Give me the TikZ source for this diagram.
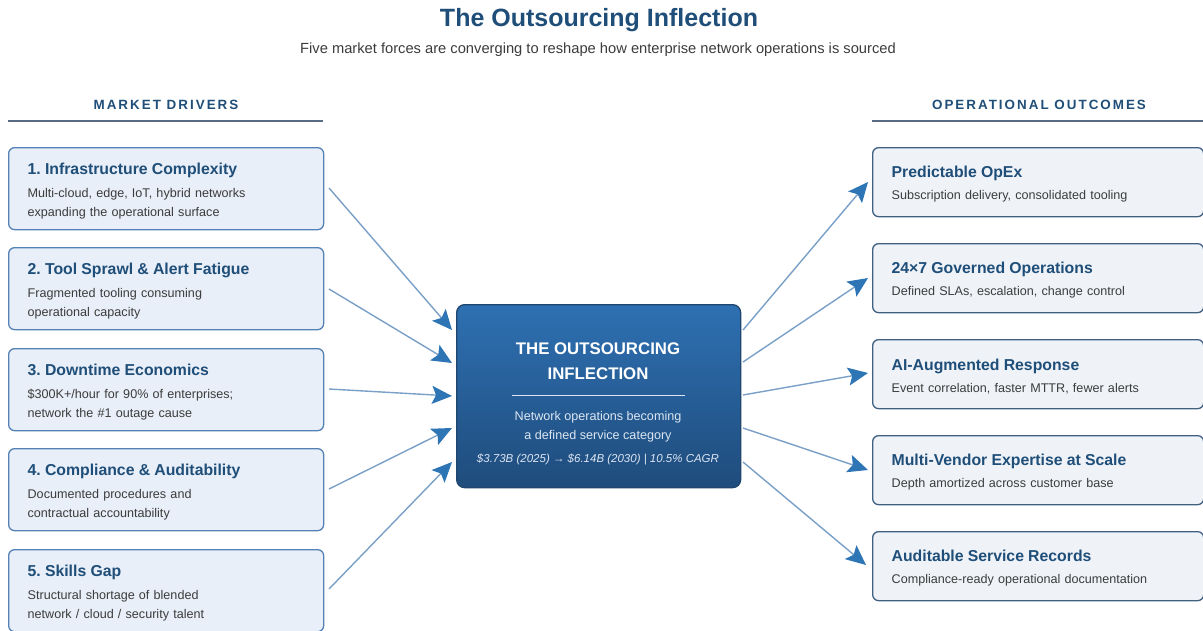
\documentclass[tikz,border=0pt]{standalone}
\usepackage{fontspec}
\setmainfont{Liberation Sans}
\usetikzlibrary{arrows.meta}
\frenchspacing
\definecolor{headblue}{RGB}{31,78,121}
\definecolor{textgray}{RGB}{60,60,60}
\definecolor{rulegray}{RGB}{88,108,132}
\definecolor{drvfill}{RGB}{232,239,248}
\definecolor{drvline}{RGB}{84,130,182}
\definecolor{outfill}{RGB}{239,243,248}
\definecolor{outline}{RGB}{64,96,130}
\definecolor{hubtop}{RGB}{46,112,178}
\definecolor{hubbottom}{RGB}{31,76,124}
\definecolor{hubline}{RGB}{30,70,110}
\definecolor{hubtext}{RGB}{220,230,242}
\definecolor{linkline}{RGB}{122,160,200}
\definecolor{linktip}{RGB}{46,117,182}

\tikzset{
  descfont/.style={font=\fontsize{12.6}{19}\selectfont,text=textgray},
  drvbox/.style={descfont,draw=drvline,fill=drvfill,line width=1.3pt,rounded corners=6pt,
    anchor=north west,minimum height=82pt,text width=277pt,inner xsep=19pt,align=left},
  outbox/.style={descfont,draw=outline,fill=outfill,line width=1.3pt,rounded corners=6pt,
    anchor=north west,minimum height=69pt,text width=293pt,inner xsep=19pt,align=left},
  colhead/.style={font=\fontsize{13.4}{15}\selectfont\bfseries\addfontfeatures{LetterSpace=15},text=headblue},
  link/.style={draw=linkline,line width=1.4pt,
    -{Stealth[length=20pt,width=18pt,inset=4pt,color=linktip]}},
}
\newcommand{\boxtitle}[1]{{\fontsize{15.8}{18}\selectfont\bfseries\color{headblue}\rule{0pt}{16pt}#1}}

\begin{document}
\begin{tikzpicture}[x=1pt,y=-1pt]
\clip (0,0) rectangle (1203,630);
\fill[white] (0,0) rectangle (1203,630);

% heading
\node[font=\fontsize{25}{28}\selectfont\bfseries,text=headblue] (title) at (599,20) {The Outsourcing Inflection};
\node[font=\fontsize{14.7}{17}\selectfont,text=textgray] (subtitle) at (598,50) {Five market forces are converging to reshape how enterprise network operations is sourced};

% column headings
\node[colhead] (drvhead) at (166,105) {MARKET DRIVERS};
\draw[rulegray,line width=2pt] (8,121) -- (323,121);
\node[colhead] (outhead) at (1039,105) {OPERATIONAL OUTCOMES};
\draw[rulegray,line width=2pt] (872,121) -- (1203,121);

% drivers
\node[drvbox] (drv1) at (8,147) {\boxtitle{1. Infrastructure Complexity}\\[4pt]Multi-cloud, edge, IoT, hybrid networks\\expanding the operational surface};
\node[drvbox] (drv2) at (8,247) {\boxtitle{2. Tool Sprawl \& Alert Fatigue}\\[4pt]Fragmented tooling consuming\\operational capacity};
\node[drvbox] (drv3) at (8,348) {\boxtitle{3. Downtime Economics}\\[4pt]\$300K+/hour for 90\% of enterprises;\\network the \#1 outage cause};
\node[drvbox] (drv4) at (8,448) {\boxtitle{4. Compliance \& Auditability}\\[4pt]Documented procedures and\\contractual accountability};
\node[drvbox] (drv5) at (8,549) {\boxtitle{5. Skills Gap}\\[4pt]Structural shortage of blended\\network / cloud / security talent};

% outcomes
\node[outbox] (out1) at (872,147) {\boxtitle{Predictable OpEx}\\[3pt]Subscription delivery, consolidated tooling};
\node[outbox] (out2) at (872,243) {\boxtitle{24×7 Governed Operations}\\[3pt]Defined SLAs, escalation, change control};
\node[outbox] (out3) at (872,339) {\boxtitle{AI-Augmented Response}\\[3pt]Event correlation, faster MTTR, fewer alerts};
\node[outbox] (out4) at (872,435) {\boxtitle{Multi-Vendor Expertise at Scale}\\[3pt]Depth amortized across customer base};
\node[outbox] (out5) at (872,531) {\boxtitle{Auditable Service Records}\\[3pt]Compliance-ready operational documentation};

% central hub
\node[draw=hubline,line width=1.3pt,rounded corners=8pt,top color=hubtop,bottom color=hubbottom,
  anchor=north west,minimum width=284pt,minimum height=183pt] (hub) at (456,304) {};
\node[align=center,text=white,font=\fontsize{16.8}{25}\selectfont\bfseries] (hubtitle) at (598,361)
  {THE OUTSOURCING\\INFLECTION};
\draw[hubtext,line width=0.8pt] (512,395) -- (685,395);
\node[align=center,text=hubtext,font=\fontsize{12.6}{19}\selectfont] (hubdesc) at (598,427)
  {Network operations becoming\\a defined service category};
\node[text=hubtext,font=\fontsize{11.5}{14}\selectfont\itshape] (hubfig) at (598,460)
  {\$3.73B (2025) → \$6.14B (2030) | 10.5\% CAGR};

% links in and out
\coordinate (in1) at (452,330);
\coordinate (in2) at (452,363);
\coordinate (in3) at (452,396);
\coordinate (in4) at (452,428);
\coordinate (in5) at (452,462);
\draw[link] (329,188) -- (in1);
\draw[link] (329,289) -- (in2);
\draw[link] (329,389) -- (in3);
\draw[link] (329,489) -- (in4);
\draw[link] (329,589) -- (in5);

\coordinate (ex1) at (743,330);
\coordinate (ex2) at (743,362);
\coordinate (ex3) at (743,395);
\coordinate (ex4) at (743,428);
\coordinate (ex5) at (743,462);
\draw[link] (ex1) -- (868,182);
\draw[link] (ex2) -- (868,278);
\draw[link] (ex3) -- (868,373);
\draw[link] (ex4) -- (868,470);
\draw[link] (ex5) -- (866,565);
\end{tikzpicture}
\end{document}
